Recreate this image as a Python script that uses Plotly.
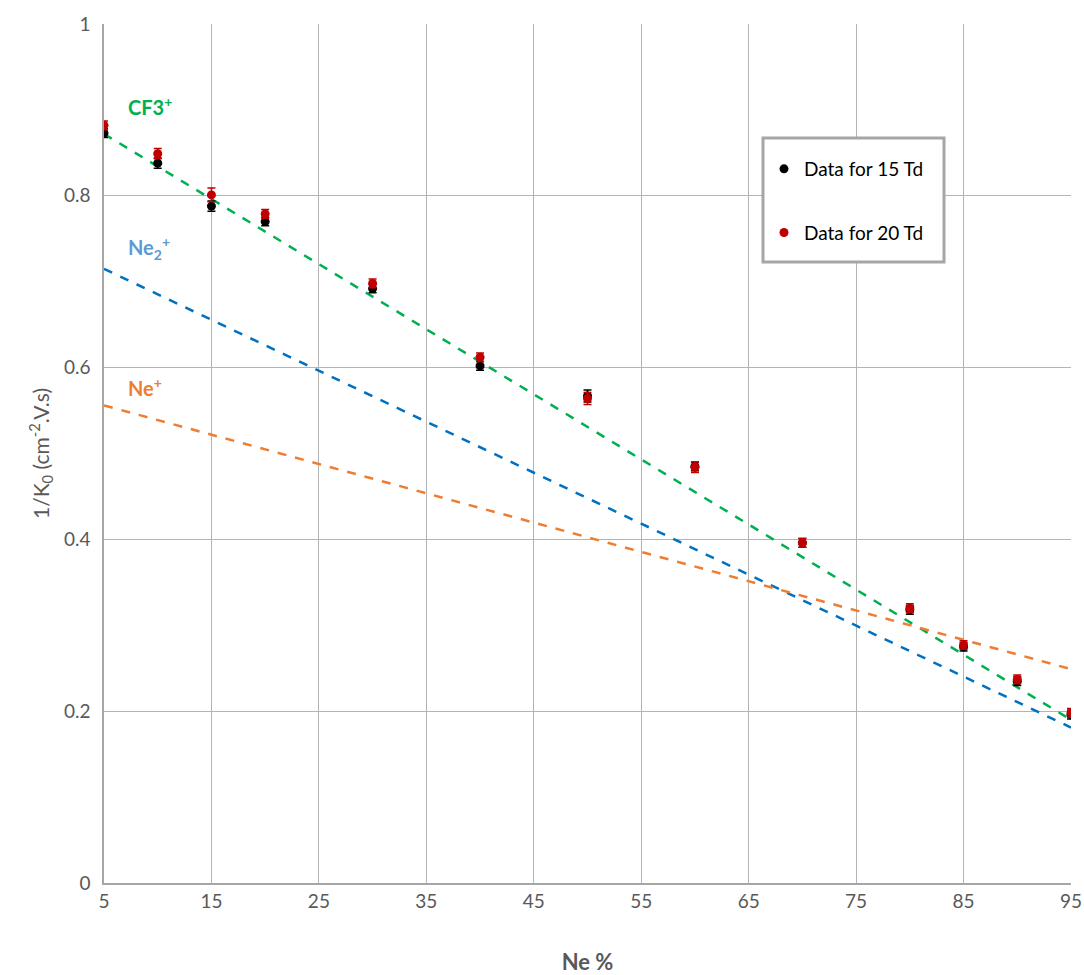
import plotly.graph_objects as go

ne_pct = [5, 10, 15, 20, 30, 40, 50, 60, 70, 80, 85, 90, 95]
inv_k0_15td = [0.873, 0.838, 0.788, 0.770, 0.692, 0.602, 0.567, 0.485, 0.396, 0.318, 0.275, 0.235, 0.196]
err_15td = [0.005, 0.006, 0.006, 0.005, 0.005, 0.005, 0.007, 0.005, 0.005, 0.005, 0.005, 0.005, 0.005]
inv_k0_20td = [0.882, 0.849, 0.801, 0.779, 0.698, 0.612, 0.564, 0.484, 0.396, 0.320, 0.277, 0.237, 0.198]
err_20td = [0.005, 0.006, 0.008, 0.005, 0.005, 0.005, 0.007, 0.006, 0.005, 0.005, 0.005, 0.005, 0.005]

line_x = [5, 95]
cf3_line = [0.872, 0.190]
ne2_line = [0.715, 0.181]
ne_line = [0.556, 0.249]

FONT = "Lato"
GRAY = "#595959"

fig = go.Figure()

fig.add_trace(go.Scatter(x=line_x, y=cf3_line, mode="lines", showlegend=False,
                         line=dict(color="#00B050", width=2.5, dash="dash")))
fig.add_trace(go.Scatter(x=line_x, y=ne2_line, mode="lines", showlegend=False,
                         line=dict(color="#0070C0", width=2.5, dash="dash")))
fig.add_trace(go.Scatter(x=line_x, y=ne_line, mode="lines", showlegend=False,
                         line=dict(color="#ED7D31", width=2.5, dash="dash")))

fig.add_trace(go.Scatter(x=ne_pct, y=inv_k0_15td, mode="markers", name="Data for 15 Td",
                         legendgroup="a",
                         marker=dict(color="#000000", size=9),
                         error_y=dict(type="data", array=err_15td, color="#000000", thickness=1.5, width=4)))
fig.add_trace(go.Scatter(x=ne_pct, y=inv_k0_20td, mode="markers", name="Data for 20 Td",
                         legendgroup="b",
                         marker=dict(color="#C00000", size=9),
                         error_y=dict(type="data", array=err_20td, color="#C00000", thickness=1.5, width=4)))

fig.add_annotation(x=9.3, y=0.905, text="<b>CF3<sup>+</sup></b>", showarrow=False,
                   font=dict(family=FONT, size=20, color="#00B050"))
fig.add_annotation(x=9.2, y=0.739, text="<b>Ne<sub>2</sub><sup>+</sup></b>", showarrow=False,
                   font=dict(family=FONT, size=20, color="#5B9BD5"))
fig.add_annotation(x=8.8, y=0.577, text="<b>Ne<sup>+</sup></b>", showarrow=False,
                   font=dict(family=FONT, size=20, color="#ED7D31"))

# legend frame (plot area: x 104..1071 px, y 24..883 px)
fig.add_shape(type="rect", xref="paper", yref="paper",
              x0=(763 - 104) / 967, x1=(944 - 104) / 967,
              y0=(883 - 262) / 859, y1=(883 - 138) / 859,
              line=dict(color="#A6A6A6", width=3), fillcolor="white", layer="above")

fig.update_layout(
    width=1084, height=975,
    margin=dict(l=104, r=13, t=24, b=92, autoexpand=False),
    paper_bgcolor="white", plot_bgcolor="white",
    font=dict(family=FONT, color=GRAY),
    legend=dict(x=(764 - 104) / 967, y=(883 - 150) / 859, xanchor="left", yanchor="top",
                bgcolor="rgba(0,0,0,0)", borderwidth=0,
                font=dict(family=FONT, size=19, color="#000000"),
                traceorder="grouped", tracegroupgap=36,
                itemwidth=30),
    xaxis=dict(range=[5, 95], tickvals=[5, 15, 25, 35, 45, 55, 65, 75, 85, 95],
               showgrid=True, gridcolor="#B3B3B3", gridwidth=1,
               showline=True, linecolor="#A6A6A6", linewidth=1.5,
               zeroline=False, ticks="", tickfont=dict(size=19, color=GRAY),
               automargin=True,
               title=dict(text="<b>Ne %</b>", font=dict(size=22, color=GRAY), standoff=44)),
    yaxis=dict(range=[0, 1], tickvals=[0, 0.2, 0.4, 0.6, 0.8, 1],
               ticktext=["0", "0.2", "0.4", "0.6", "0.8", "1"],
               showgrid=True, gridcolor="#B3B3B3", gridwidth=1,
               showline=True, linecolor="#A6A6A6", linewidth=1.5,
               zeroline=False, ticks="", tickfont=dict(size=19, color=GRAY),
               automargin=True, ticklabelstandoff=8,
               title=dict(text="1/K<sub>0</sub> (cm<sup>-2</sup>.V.s)", font=dict(size=21, color=GRAY), standoff=9)),
)

fig.write_html("out.html", post_script="document.body.style.margin='0';",
               config={"displayModeBar": False})
